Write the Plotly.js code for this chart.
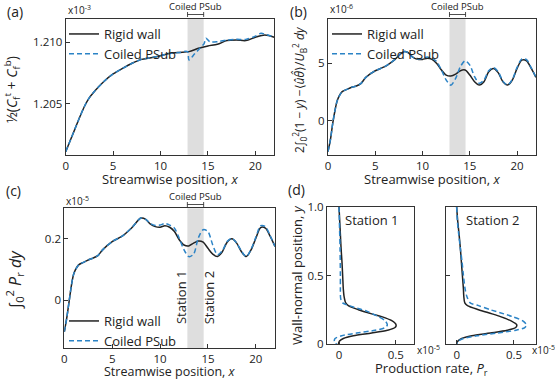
<!DOCTYPE html>
<html>
<head>
<meta charset="utf-8">
<script src="https://cdn.plot.ly/plotly-3.0.1.min.js"></script>
<style>
  html, body { margin: 0; padding: 0; background: #fff; }
  #fig { width: 555px; height: 380px; }
</style>
</head>
<body>
<div id="fig"></div>
<script>
// ---- data ----
// (a) skin friction, x10^-3
const aRigidX = [0, 0.5, 1, 1.5, 2, 2.5, 3, 4, 5, 6, 7, 8, 9, 10, 11, 12, 13, 14, 15, 16, 17, 18, 19, 20, 21, 22];
const aRigidY = [1.20109, 1.20204, 1.20299, 1.20394, 1.20481, 1.20549, 1.20598, 1.20679, 1.20742, 1.20788, 1.20829, 1.20861, 1.20875, 1.20891, 1.20910, 1.20918, 1.20924, 1.20951, 1.20970, 1.20984, 1.21014, 1.21019, 1.21014, 1.21041, 1.21060, 1.21041];
const aCoiledX = [0, 0.5, 1, 1.5, 2, 2.5, 3, 4, 5, 6, 7, 8, 9, 10, 11, 12, 12.85, 13.0, 13.6, 14.2, 14.6, 14.8, 15.2, 16, 17, 18, 19, 20, 20.6, 21.2, 22];
const aCoiledY = [1.20109, 1.20204, 1.20299, 1.20394, 1.20481, 1.20549, 1.20598, 1.20679, 1.20742, 1.20788, 1.20829, 1.20861, 1.20875, 1.20891, 1.20910, 1.20918, 1.20924, 1.20856, 1.20906, 1.20956, 1.20990, 1.21033, 1.21005, 1.21005, 1.21018, 1.21024, 1.21024, 1.21050, 1.21073, 1.21062, 1.21042];

// (b) and (c) share the streamwise grid
const sx = [0, 0.25, 0.5, 0.75, 1, 1.5, 2, 2.5, 3, 3.5, 4, 5, 6, 7, 8, 8.5, 9, 9.5, 10, 10.5, 11, 11.5, 12, 12.5, 13, 13.5, 14, 14.5, 15, 15.5, 16, 16.5, 17, 17.5, 18, 18.5, 19, 19.5, 20, 20.5, 21, 21.5, 22];
// (b) heat flux integral, x10^-6
const bRigid = [-2.70, -1.69, -0.23, 0.93, 1.80, 2.53, 2.73, 2.91, 3.02, 3.26, 3.78, 4.36, 4.71, 5.29, 6.02, 5.93, 5.52, 5.35, 5.35, 5.44, 5.35, 5.00, 4.42, 3.98, 3.90, 4.07, 4.36, 4.42, 3.98, 3.40, 3.11, 3.40, 4.27, 4.56, 4.19, 3.40, 3.11, 3.55, 4.56, 5.29, 5.23, 4.56, 3.78];
const bCoiled = [-2.70, -1.69, -0.23, 0.93, 1.80, 2.53, 2.73, 2.91, 3.02, 3.26, 3.78, 4.36, 4.71, 5.29, 6.02, 5.93, 5.52, 5.38, 5.45, 5.55, 5.45, 5.15, 4.42, 3.55, 3.10, 3.69, 4.71, 5.23, 4.85, 3.84, 3.26, 3.55, 4.36, 4.65, 4.27, 3.45, 3.11, 3.60, 4.65, 5.40, 5.33, 4.60, 3.78];
// (c) production integral, x10^-5
const cRigid = [-0.104, -0.060, -0.005, 0.049, 0.087, 0.115, 0.123, 0.131, 0.137, 0.145, 0.164, 0.191, 0.208, 0.235, 0.268, 0.264, 0.248, 0.240, 0.238, 0.243, 0.238, 0.224, 0.197, 0.180, 0.177, 0.186, 0.193, 0.189, 0.169, 0.150, 0.142, 0.158, 0.189, 0.200, 0.186, 0.158, 0.142, 0.164, 0.202, 0.237, 0.235, 0.208, 0.175];
const cCoiled = [-0.104, -0.060, -0.005, 0.049, 0.087, 0.115, 0.123, 0.131, 0.137, 0.145, 0.164, 0.191, 0.208, 0.235, 0.268, 0.264, 0.250, 0.244, 0.245, 0.250, 0.245, 0.235, 0.202, 0.164, 0.142, 0.150, 0.204, 0.230, 0.224, 0.180, 0.148, 0.161, 0.191, 0.202, 0.186, 0.160, 0.142, 0.166, 0.205, 0.243, 0.240, 0.210, 0.175];

// (d) wall-normal profiles of P_r, x10^-5
const dY = [1.0, 0.9, 0.8, 0.7, 0.6, 0.5, 0.4, 0.35, 0.3, 0.28, 0.25, 0.22, 0.2, 0.17, 0.14, 0.12, 0.1, 0.08, 0.06, 0.04, 0.02, 0.0];
const st1Rigid = [0, 0.006, 0.012, 0.018, 0.026, 0.032, 0.038, 0.044, 0.059, 0.082, 0.171, 0.288, 0.376, 0.465, 0.503, 0.494, 0.426, 0.288, 0.126, 0.038, 0.003, -0.006];
const st1CoiledY = [1.0, 0.9, 0.7, 0.5, 0.4, 0.33, 0.3, 0.27, 0.24, 0.2, 0.17, 0.14, 0.12, 0.1, 0.08, 0.06, 0.04, 0.02, 0.0];
const st1Coiled = [0, 0.003, 0.009, 0.012, 0.012, 0.015, 0.032, 0.126, 0.244, 0.347, 0.406, 0.426, 0.406, 0.318, 0.156, 0.024, -0.035, -0.041, -0.021];
const st2Rigid = [0, 0.009, 0.021, 0.032, 0.041, 0.050, 0.059, 0.062, 0.071, 0.094, 0.191, 0.309, 0.382, 0.471, 0.524, 0.515, 0.441, 0.294, 0.132, 0.044, 0.009, 0];
const st2Coiled = [0, 0.006, 0.018, 0.032, 0.047, 0.059, 0.074, 0.088, 0.118, 0.191, 0.294, 0.412, 0.485, 0.574, 0.609, 0.594, 0.515, 0.353, 0.176, 0.059, 0.012, 0];

const band = [12.85, 14.55];   // coiled PSub section

// ---- styling ----
const W = 555, H = 380;
const px = v => v / W;
const py = v => 1 - v / H;
const FONT = 'Open Sans, Noto Sans, sans-serif';
const INK = '#222';
const BLUE = '#2b83c6';

const rigid = { color: INK, width: 1.5, shape: 'spline', smoothing: 0.8 };
const coiled = { color: BLUE, width: 1.5, dash: '5px,3px', shape: 'spline', smoothing: 0.8 };

function ax(domain, range, extra) {
  return Object.assign({
    domain, range, showgrid: false, zeroline: false,
    showline: true, mirror: true, linecolor: '#333', linewidth: 1,
    ticks: 'inside', ticklen: 4, tickcolor: '#333',
    tickfont: { size: 11.5, color: INK }
  }, extra || {});
}

const traces = [
  { x: aRigidX, y: aRigidY, name: 'Rigid wall', mode: 'lines', line: rigid, xaxis: 'x', yaxis: 'y', legend: 'legend' },
  { x: aCoiledX, y: aCoiledY, name: 'Coiled PSub', mode: 'lines', line: coiled, xaxis: 'x', yaxis: 'y', legend: 'legend' },
  { x: sx, y: bRigid, name: 'Rigid wall', mode: 'lines', line: rigid, xaxis: 'x2', yaxis: 'y2', legend: 'legend2' },
  { x: sx, y: bCoiled, name: 'Coiled PSub', mode: 'lines', line: coiled, xaxis: 'x2', yaxis: 'y2', legend: 'legend2' },
  { x: sx, y: cRigid, name: 'Rigid wall', mode: 'lines', line: rigid, xaxis: 'x3', yaxis: 'y3', legend: 'legend3' },
  { x: sx, y: cCoiled, name: 'Coiled PSub', mode: 'lines', line: coiled, xaxis: 'x3', yaxis: 'y3', legend: 'legend3' },
  { x: st1Rigid, y: dY, mode: 'lines', line: rigid, xaxis: 'x4', yaxis: 'y4', showlegend: false },
  { x: st1Coiled, y: st1CoiledY, mode: 'lines', line: coiled, xaxis: 'x4', yaxis: 'y4', showlegend: false },
  { x: st2Rigid, y: dY, mode: 'lines', line: rigid, xaxis: 'x5', yaxis: 'y5', showlegend: false },
  { x: st2Coiled, y: dY, mode: 'lines', line: coiled, xaxis: 'x5', yaxis: 'y5', showlegend: false }
];

const dA = { x: [px(65.7), px(274.3)], y: [py(155), py(18.5)] };
const dB = { x: [px(328), px(536)], y: [py(155), py(18.5)] };
const dC = { x: [px(64.3), px(275)], y: [py(348.3), py(208.3)] };
const dD1 = { x: [px(327), px(414)], y: [py(344), py(207)] };
const dD2 = { x: [px(446), px(536)], y: [py(344), py(207)] };

const xTicks = { tickvals: [0, 5, 10, 15, 20], ticktext: ['0', '5', '10', '15', '20'] };

const shapes = [];
const annotations = [];

// shaded coil section plus the |<->| marker above each streamwise panel
[['x', 'y', 6, 14.5], ['x2', 'y2', 6, 14.5], ['x3', 'y3', 196, 204.5]].forEach(([xr, yr, labY, arrY]) => {
  shapes.push({ type: 'rect', xref: xr, yref: yr + ' domain', x0: band[0], x1: band[1], y0: 0, y1: 1,
    fillcolor: '#dedede', line: { width: 0 }, layer: 'below' });
  shapes.push({ type: 'line', xref: xr, yref: 'paper', x0: band[0], x1: band[1], y0: py(arrY), y1: py(arrY),
    line: { color: INK, width: 0.8 } });
  band.forEach(b => shapes.push({ type: 'line', xref: xr, yref: 'paper', x0: b, x1: b,
    y0: py(arrY - 2.5), y1: py(arrY + 2.5), line: { color: INK, width: 0.8 } }));
  annotations.push({ text: 'Coiled PSub', xref: xr, yref: 'paper', x: (band[0] + band[1]) / 2, y: py(labY),
    xanchor: 'center', yanchor: 'middle', showarrow: false, font: { size: 9.5, color: INK } });
});

const lbl = (text, x, y, size, extra) => annotations.push(Object.assign({
  text, x: px(x), y: py(y), xref: 'paper', yref: 'paper', showarrow: false,
  xanchor: 'center', yanchor: 'middle',
  font: { size, color: INK, family: FONT }
}, extra || {}));

// panel letters
lbl('(a)', 15, 12, 14);
lbl('(b)', 298, 12, 14);
lbl('(c)', 13, 190, 14);
lbl('(d)', 296, 189, 14);

// exponent labels
lbl('x10<sup>-3</sup>', 66, 10, 10, { xanchor: 'left' });
lbl('x10<sup>-6</sup>', 328, 9, 10, { xanchor: 'left' });
lbl('x10<sup>-5</sup>', 64, 201, 10, { xanchor: 'left' });
lbl('x10<sup>-5</sup>', 415, 350, 10, { xanchor: 'left' });
lbl('x10<sup>-5</sup>', 530, 350, 10, { xanchor: 'left' });

// axis titles
lbl('Streamwise position, <i>x</i>', 170, 179, 13);
lbl('Streamwise position, <i>x</i>', 432, 179, 13);
lbl('Streamwise position, <i>x</i>', 170, 371, 12.5);
lbl('Production rate, <i>P</i><sub>r</sub>', 431, 369, 13);
lbl('½(<i>C</i><sub>f</sub><sup>t</sup> + <i>C</i><sub>f</sub><sup>b</sup>)', 12, 90, 14, { textangle: -90 });
lbl('2∫<sub>0</sub><sup>2</sup>(1 − <i>y</i>) −⟨<i>ûθ̂</i>⟩/<i>U</i><sub>B</sub><sup>2</sup> <i>dy</i>', 300, 90, 12, { textangle: -90 });
lbl('∫<sub>0</sub><sup>2</sup> <i>P</i><sub>r</sub> <i>dy</i>', 14, 280, 16, { textangle: -90 });
lbl('Wall-normal position, <i>y</i>', 297, 275, 13, { textangle: -90 });

// station labels
annotations.push({ text: 'Station 1', xref: 'x3', yref: 'y3', x: 12.2, y: 0.01, textangle: -90,
  xanchor: 'center', yanchor: 'middle', showarrow: false, font: { size: 13, color: INK } });
annotations.push({ text: 'Station 2', xref: 'x3', yref: 'y3', x: 15.15, y: 0.01, textangle: -90,
  xanchor: 'center', yanchor: 'middle', showarrow: false, font: { size: 13, color: INK } });
lbl('Station 1', 372, 220, 13);
lbl('Station 2', 493, 220, 13);

const legendBase = { bgcolor: 'rgba(0,0,0,0)', borderwidth: 0, font: { size: 13, color: INK },
  xanchor: 'left', yanchor: 'top', itemwidth: 30, tracegroupgap: 0 };

const layout = {
  width: W, height: H,
  margin: { l: 0, r: 0, t: 0, b: 0 },
  paper_bgcolor: '#fff', plot_bgcolor: 'rgba(0,0,0,0)',
  font: { family: FONT, color: INK },
  showlegend: true,
  legend: Object.assign({ x: px(64), y: py(19) }, legendBase),
  legend2: Object.assign({ x: px(327), y: py(19) }, legendBase),
  legend3: Object.assign({ x: px(64), y: py(306) }, legendBase),
  xaxis: ax(dA.x, [0, 22], Object.assign({ anchor: 'y' }, xTicks)),
  yaxis: ax(dA.y, [1.20082, 1.21194], { anchor: 'x', tickvals: [1.205, 1.21], ticktext: ['1.205', '1.210'] }),
  xaxis2: ax(dB.x, [0, 22], Object.assign({ anchor: 'y2' }, xTicks)),
  yaxis2: ax(dB.y, [-3, 8.92], { anchor: 'x2', tickvals: [0, 5], ticktext: ['0', '5'] }),
  xaxis3: ax(dC.x, [0, 22], Object.assign({ anchor: 'y3' }, xTicks)),
  yaxis3: ax(dC.y, [-0.158, 0.30], { anchor: 'x3', tickvals: [0, 0.2], ticktext: ['0', '0.2'] }),
  xaxis4: ax(dD1.x, [-0.106, 0.661], { anchor: 'y4', tickvals: [0, 0.5], ticktext: ['0', '0.5'] }),
  yaxis4: ax(dD1.y, [0, 1], { anchor: 'x4', tickvals: [0, 0.5, 1], ticktext: ['0', '0.5', '1.0'] }),
  xaxis5: ax(dD2.x, [-0.093, 0.692], { anchor: 'y5', tickvals: [0, 0.5], ticktext: ['0', '0.5'] }),
  yaxis5: ax(dD2.y, [0, 1], { anchor: 'x5', tickvals: [0, 0.5, 1], showticklabels: false }),
  shapes, annotations
};

Plotly.newPlot('fig', traces, layout, { staticPlot: true, displayModeBar: false });
</script>
</body>
</html>
